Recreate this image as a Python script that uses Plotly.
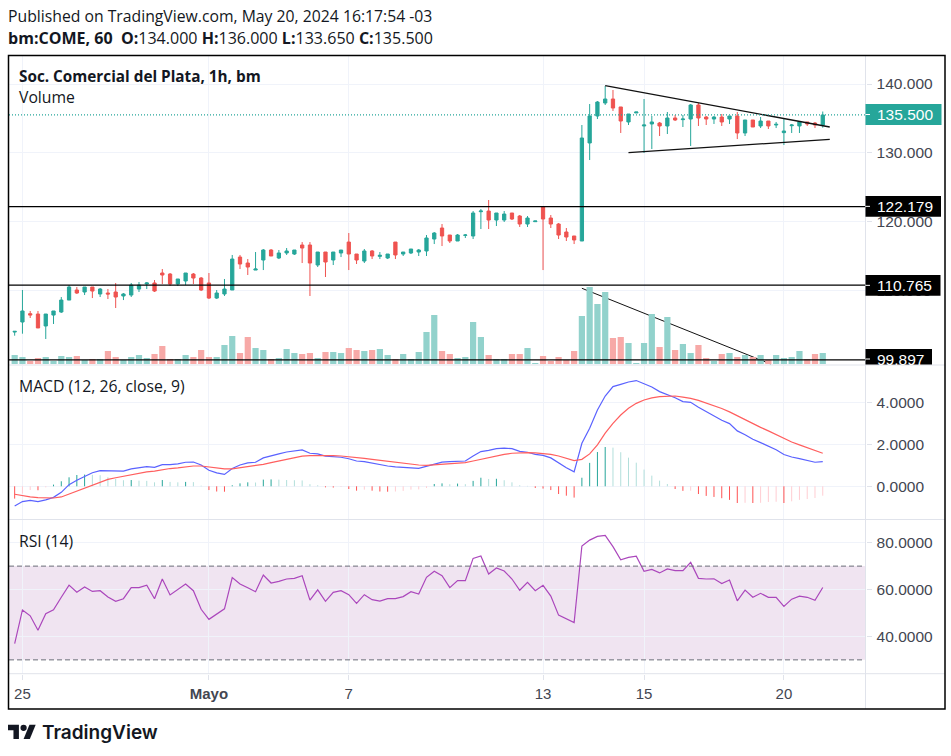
import plotly.graph_objects as go

W, H = 951, 756

# bar-by-bar readings, hourly, 25 Apr to 20 May 2024
opens = [103.95, 105.41, 106.62, 106.57, 104.83, 106.42, 106.86, 108.60, 110.06, 109.77,
         110.49, 109.48, 109.62, 109.77, 109.19, 109.33, 110.20, 110.93, 111.08, 112.53,
         112.38, 110.93, 111.37, 112.38, 111.80, 111.08, 108.89, 109.48, 110.06, 114.85,
         113.98, 112.96, 114.42, 115.87, 114.71, 115.44, 115.29, 116.60, 116.60, 113.69,
         115.58, 114.42, 115.44, 117.03, 115.29, 114.27, 115.73, 114.95, 114.71, 117.03,
         115.29, 115.44, 115.58, 115.73, 117.47, 119.07, 118.05, 117.18, 118.00, 117.91,
         121.44, 121.54, 120.23, 120.23, 121.25, 120.81, 119.65, 119.99, 122.12, 120.52,
         119.65, 118.49, 117.91, 117.18, 131.43, 135.35, 137.24, 137.82, 136.66, 134.48,
         135.79, 133.90, 134.19, 134.33, 133.90, 135.06, 134.82, 134.91, 136.95, 135.20,
         134.91, 135.20, 134.91, 135.35, 132.88, 134.77, 133.90, 134.62, 134.04, 132.93,
         133.94, 133.90, 134.48, 134.33, 134.00]
highs = [104.05, 110.06, 107.01, 107.01, 106.57, 107.01, 109.04, 110.78, 110.49, 110.49,
         110.49, 110.35, 110.20, 111.08, 109.62, 111.08, 111.22, 111.22, 111.51, 113.11,
         112.53, 111.66, 112.53, 112.53, 111.95, 112.53, 110.06, 111.66, 115.15, 115.15,
         114.56, 115.58, 116.02, 116.02, 115.87, 116.16, 115.87, 117.03, 117.03, 115.58,
         115.58, 115.58, 115.87, 118.34, 115.29, 116.02, 115.87, 115.58, 115.29, 117.03,
         115.58, 116.02, 116.02, 118.05, 118.49, 119.65, 118.05, 118.20, 118.20, 121.54,
         121.83, 123.14, 121.25, 121.54, 121.25, 120.96, 120.81, 120.09, 122.27, 120.96,
         119.80, 119.07, 117.91, 134.04, 137.09, 137.53, 139.71, 139.13, 136.66, 135.64,
         135.93, 137.82, 135.35, 134.48, 135.93, 135.50, 135.50, 137.09, 137.24, 135.35,
         135.35, 135.64, 135.35, 135.93, 134.77, 134.77, 135.20, 134.62, 134.48, 134.91,
         134.19, 134.62, 134.48, 134.48, 136.00]
lows = [103.42, 103.71, 105.99, 104.54, 102.94, 105.12, 106.72, 108.60, 109.48, 109.33,
        108.89, 109.04, 108.75, 107.44, 108.60, 109.04, 109.77, 110.20, 109.77, 110.93,
        110.64, 110.64, 110.78, 110.93, 109.91, 108.75, 108.75, 109.19, 110.06, 113.11,
        112.24, 112.96, 112.96, 115.00, 114.56, 115.15, 115.15, 113.98, 109.19, 113.40,
        111.95, 113.69, 114.85, 112.96, 113.84, 113.98, 114.56, 114.56, 114.56, 114.56,
        115.00, 115.29, 115.00, 115.00, 116.74, 116.45, 116.89, 117.18, 117.62, 117.47,
        118.92, 118.92, 119.36, 119.94, 120.23, 119.22, 119.22, 119.99, 112.96, 119.07,
        117.47, 117.18, 116.74, 117.18, 128.95, 134.91, 136.95, 136.08, 132.88, 134.04,
        135.79, 129.97, 130.55, 132.44, 132.73, 134.62, 133.75, 130.99, 133.90, 134.04,
        134.19, 133.90, 134.19, 132.00, 132.44, 133.75, 133.60, 133.46, 133.60, 131.13,
        132.88, 132.88, 133.90, 133.60, 133.65]
closes = [104.05, 107.01, 106.42, 104.54, 106.57, 107.01, 108.60, 110.49, 109.62, 110.49,
          109.91, 110.20, 109.48, 109.04, 109.48, 110.78, 110.78, 111.08, 109.91, 112.24,
          110.93, 111.66, 112.53, 111.80, 110.06, 108.89, 109.62, 110.20, 114.56, 113.84,
          113.40, 113.11, 115.87, 115.00, 115.44, 115.73, 115.87, 116.16, 113.98, 115.58,
          114.13, 115.58, 115.87, 115.29, 114.42, 115.73, 115.00, 115.10, 115.29, 115.15,
          115.58, 116.02, 115.87, 117.62, 118.34, 117.91, 117.18, 118.05, 118.05, 121.25,
          121.54, 120.23, 121.25, 121.10, 120.38, 119.65, 120.52, 120.09, 120.38, 119.65,
          118.05, 117.76, 117.33, 132.15, 135.35, 137.38, 137.82, 136.51, 134.62, 135.64,
          135.93, 134.04, 134.48, 133.90, 135.06, 134.77, 134.91, 136.95, 135.06, 134.91,
          135.20, 134.48, 135.35, 132.88, 134.77, 133.75, 134.62, 133.90, 134.14, 133.17,
          134.04, 134.48, 134.19, 134.04, 135.50]
volumes = [27, 21, 9, 18, 21, 9, 24, 21, 24, 12, 15, 15, 39, 21, 12, 21, 27, 18, 30, 54,
           15, 15, 27, 21, 42, 21, 21, 57, 84, 33, 81, 48, 42, 15, 18, 45, 33, 30, 33, 18,
           36, 36, 33, 48, 42, 39, 42, 45, 27, 15, 30, 15, 36, 96, 147, 39, 30, 18, 21, 126,
           81, 27, 15, 15, 30, 30, 48, 3, 24, 9, 21, 12, 39, 144, 231, 180, 216, 78, 81, 63,
           3, 63, 150, 51, 141, 42, 60, 33, 57, 18, 9, 30, 33, 21, 27, 21, 27, 12, 27, 18,
           21, 39, 15, 30, 33]
macd = [-0.94, -0.73, -0.67, -0.73, -0.65, -0.53, -0.29, 0.08, 0.29, 0.49, 0.65, 0.75, 0.75,
        0.73, 0.73, 0.83, 0.89, 0.94, 0.91, 1.04, 1.04, 1.07, 1.15, 1.16, 1.02, 0.77, 0.64,
        0.57, 0.85, 1.02, 1.12, 1.15, 1.36, 1.47, 1.55, 1.64, 1.69, 1.74, 1.58, 1.55, 1.44,
        1.42, 1.39, 1.32, 1.21, 1.18, 1.10, 1.02, 0.97, 0.93, 0.89, 0.88, 0.86, 0.97, 1.08,
        1.16, 1.18, 1.20, 1.21, 1.45, 1.66, 1.72, 1.80, 1.83, 1.80, 1.67, 1.63, 1.53, 1.48,
        1.36, 1.12, 0.89, 0.69, 2.06, 2.78, 3.65, 4.32, 4.77, 4.88, 4.99, 5.06, 4.90, 4.75,
        4.53, 4.40, 4.24, 4.05, 4.02, 3.78, 3.57, 3.37, 3.16, 3.00, 2.65, 2.47, 2.25, 2.09,
        1.93, 1.75, 1.52, 1.40, 1.32, 1.24, 1.15, 1.18]
signal = [-0.38, -0.46, -0.51, -0.54, -0.56, -0.56, -0.51, -0.37, -0.22, -0.06, 0.08, 0.22,
          0.33, 0.41, 0.48, 0.56, 0.62, 0.69, 0.73, 0.80, 0.85, 0.88, 0.93, 0.97, 0.97, 0.93,
          0.88, 0.83, 0.83, 0.88, 0.93, 0.97, 1.05, 1.13, 1.21, 1.29, 1.37, 1.44, 1.47, 1.48,
          1.48, 1.47, 1.45, 1.42, 1.37, 1.34, 1.29, 1.24, 1.20, 1.15, 1.10, 1.05, 1.02, 1.00,
          1.02, 1.05, 1.07, 1.10, 1.13, 1.21, 1.29, 1.39, 1.47, 1.53, 1.58, 1.61, 1.61, 1.60,
          1.58, 1.53, 1.45, 1.34, 1.23, 1.29, 1.55, 1.98, 2.54, 3.01, 3.41, 3.73, 3.97, 4.13,
          4.23, 4.29, 4.32, 4.32, 4.27, 4.21, 4.11, 3.99, 3.84, 3.72, 3.56, 3.37, 3.17, 3.00,
          2.82, 2.65, 2.47, 2.28, 2.12, 1.98, 1.85, 1.72, 1.58]
hist = [-0.59, -0.35, -0.18, -0.19, -0.05, 0.08, 0.24, 0.43, 0.54, 0.56, 0.55, 0.53, 0.43,
        0.35, 0.29, 0.30, 0.27, 0.26, 0.19, 0.30, 0.21, 0.19, 0.21, 0.20, 0.03, -0.18, -0.25,
        -0.26, 0.05, 0.14, 0.19, 0.18, 0.32, 0.33, 0.32, 0.30, 0.29, 0.28, 0.10, 0.05, -0.05,
        -0.06, -0.03, -0.13, -0.21, -0.16, -0.21, -0.25, -0.26, -0.25, -0.22, -0.16, -0.15,
        -0.08, 0.11, 0.14, 0.10, 0.13, 0.10, 0.26, 0.41, 0.35, 0.36, 0.29, 0.19, 0.05, 0.02,
        -0.08, -0.11, -0.18, -0.37, -0.45, -0.54, 0.41, 1.12, 1.64, 1.88, 1.85, 1.63, 1.37,
        1.13, 0.80, 0.51, 0.27, 0.11, -0.13, -0.22, -0.21, -0.37, -0.46, -0.51, -0.57, -0.65,
        -0.80, -0.79, -0.80, -0.79, -0.75, -0.74, -0.80, -0.72, -0.65, -0.61, -0.56, -0.45]
rsi = [36.9, 51.3, 48.8, 42.6, 49.7, 51.4, 56.7, 61.9, 58.9, 61.1, 59.2, 59.5, 56.8, 55.0,
       56.1, 60.8, 60.8, 61.9, 56.1, 64.5, 57.7, 59.9, 62.4, 59.5, 51.6, 47.3, 49.6, 51.8,
       65.1, 62.4, 60.8, 59.1, 66.2, 62.8, 63.5, 64.5, 64.8, 65.9, 55.5, 59.9, 55.0, 58.8,
       59.5, 57.8, 54.1, 57.8, 55.7, 55.1, 56.1, 56.1, 57.0, 59.1, 58.1, 65.2, 67.8, 65.9,
       60.8, 63.8, 63.8, 73.3, 74.3, 66.6, 69.2, 67.9, 64.5, 59.7, 63.1, 59.5, 61.8, 57.2,
       49.1, 47.6, 45.9, 78.6, 81.1, 82.7, 83.1, 78.3, 72.7, 73.7, 74.2, 67.8, 68.6, 67.1,
       68.8, 68.1, 68.1, 71.6, 64.8, 64.5, 64.6, 62.6, 64.1, 55.2, 59.8, 56.7, 58.4, 56.7,
       56.7, 52.8, 55.9, 57.2, 56.7, 55.4, 60.9]

time_ticks = [1, 25, 43, 68, 81, 99]
time_labels = ['25', '<b>Mayo</b>', '7', '13', '15', '20']
price_ticks = [110, 120, 130, 140]
macd_ticks = [0, 2, 4]
rsi_ticks = [40, 60, 80]

last_price = 135.5
levels = [122.179, 110.765, 99.897]
# trend lines: (bar, price) at each end
upper_trend = ([76, 104.9], [139.76, 133.75])
lower_trend = ([79, 104.9], [130.02, 131.96])
volume_trend = ([73, 97.3], [110.31, 99.30])

GREEN = '#26a69a'
RED = '#ef5350'
GRID = '#f0f3fa'
SEP = '#e0e3eb'
TEXT = '#131722'
AXIS_TEXT = '#434651'
UI_FONT = 'Open Sans'
AXIS_FONT = 'Liberation Sans'
SCALE_X = 865.5


def px(x):
    return x / W


def py(y):
    return 1 - y / H


bars = list(range(len(closes)))
vol_colors = ['#92d2cc' if c >= o else '#f7a9a7' for o, c in zip(opens, closes)]

# histogram stems grouped by TradingView's rising/falling colours
stems = {'#26a69a': ([], []), '#b2dfdb': ([], []), '#ff5252': ([], []), '#ffcdd2': ([], [])}
prev = 0
for i, h in enumerate(hist):
    if h >= 0:
        color = '#26a69a' if h > prev else '#b2dfdb'
    else:
        color = '#ff5252' if h < prev else '#ffcdd2'
    stems[color][0].extend([i, i, None])
    stems[color][1].extend([0, h, None])
    prev = h

fig = go.Figure()

fig.add_trace(go.Bar(x=bars, y=volumes, yaxis='y2', width=0.8, marker_color=vol_colors,
                     marker_line_width=0, name='Volume'))
fig.add_trace(go.Candlestick(x=bars, open=opens, high=highs, low=lows, close=closes, yaxis='y',
                             whiskerwidth=0, name='COME',
                             increasing=dict(line=dict(color=GREEN, width=1), fillcolor=GREEN),
                             decreasing=dict(line=dict(color=RED, width=1), fillcolor=RED)))
for xs, ys, lw in [(*upper_trend, 1.3), (*lower_trend, 1.3), (*volume_trend, 1)]:
    fig.add_trace(go.Scatter(x=xs, y=ys, yaxis='y', mode='lines',
                             line=dict(color='#111111', width=lw)))

for color, (xs, ys) in stems.items():
    fig.add_trace(go.Scatter(x=xs, y=ys, yaxis='y3', mode='lines', name='Histogram',
                             line=dict(color=color, width=1)))
fig.add_trace(go.Scatter(x=bars, y=macd, yaxis='y3', mode='lines', name='MACD',
                         line=dict(color='#5a62ff', width=1.2)))
fig.add_trace(go.Scatter(x=bars, y=signal, yaxis='y3', mode='lines', name='Signal',
                         line=dict(color='#ff5f5f', width=1.2)))
fig.add_trace(go.Scatter(x=bars, y=rsi, yaxis='y4', mode='lines', name='RSI',
                         line=dict(color='#ab47bc', width=1.2)))

shapes = []


def rect(x0, y0, x1, y1, color):
    shapes.append(dict(type='rect', xref='paper', yref='paper', x0=px(x0), x1=px(x1),
                       y0=py(y0), y1=py(y1), fillcolor=color, line_width=0, layer='above'))


def seg(x0, y0, x1, y1, color, width=1, dash='solid'):
    shapes.append(dict(type='line', xref='paper', yref='paper', x0=px(x0), x1=px(x1),
                       y0=py(y0), y1=py(y1), line=dict(color=color, width=width, dash=dash),
                       layer='above'))


# rsi band
shapes.append(dict(type='rect', xref='paper', yref='y4', x0=px(9), x1=px(SCALE_X), y0=30, y1=70,
                   fillcolor='rgba(130,30,138,0.12)', line_width=0, layer='below'))
for level in [70, 30]:
    shapes.append(dict(type='line', xref='paper', yref='y4', x0=px(9), x1=px(SCALE_X), y0=level,
                       y1=level, line=dict(color='#6a6d78', width=1, dash='5px,3px'), layer='above'))

# price lines
shapes.append(dict(type='line', xref='paper', yref='y', x0=px(9), x1=px(SCALE_X), y0=last_price,
                   y1=last_price, line=dict(color=GREEN, width=1.3, dash='1px,2px'), layer='above'))
for level in levels:
    shapes.append(dict(type='line', xref='paper', yref='y', x0=px(9), x1=px(SCALE_X), y0=level,
                       y1=level, line=dict(color='#000000', width=1.2), layer='above'))

# pane separators and the scale
seg(9, 365, 945, 365, SEP)
seg(9, 519.5, 945, 519.5, SEP)
seg(9, 673.7, 945, 673.7, SEP)
seg(SCALE_X, 56, SCALE_X, 709, SEP)

# price labels
boxes = [(last_price, '135.500', 104, 125, 941.5, GREEN),
         (levels[0], '122.179', 196, 216.7, 941, '#000000'),
         (levels[1], '110.765', 275, 295.7, 940.5, '#000000'),
         (levels[2], '99.897', 349, 364.5, 932, '#000000')]
annotations = []
for _, label, top, bottom, right, color in boxes:
    rect(SCALE_X, top, right, bottom, color)
    mid = (top + bottom) / 2 if label != '99.897' else 359
    seg(SCALE_X, mid, 870, mid, '#ffffff')
    annotations.append(dict(x=px(877), y=py(mid), text=label,
                            font=dict(family=AXIS_FONT, size=15.5, color='#ffffff')))

# outer frame
shapes.append(dict(type='rect', xref='paper', yref='paper', x0=px(8.5), x1=px(945), y0=py(709),
                   y1=py(55.5), line=dict(color='#000000', width=1.5), layer='above'))


def note(x, y, text, size=15.75, color=TEXT, family=UI_FONT, **font):
    annotations.append(dict(x=px(x), y=py(y), text=text,
                            font=dict(family=family, size=size, color=color, **font)))


note(8, 16, 'Published on TradingView.com, May 20, 2024 16:17:54 -03')
note(8, 38, '<b>bm:COME, 60  O:</b>134.000 <b>H:</b>136.000 <b>L:</b>133.650 <b>C:</b>135.500', size=16.05)
note(19, 76.5, '<b>Soc. Comercial del Plata, 1h, bm</b>', size=15.3)
note(19, 97.5, 'Volume')
note(19, 385.5, 'MACD (12, 26, close, 9)')
note(19, 540.5, 'RSI (14)')
note(42, 732, 'TradingView', size=19, family='Inter', weight=600)

# logo, in the mark's own 36-wide grid
def lx(u):
    return px(8 + u * 0.78)


def ly(v):
    return py(724.7 + (v - 4) * 0.79)


logo_t = f'M{lx(14)},{ly(22)} L{lx(7)},{ly(22)} L{lx(7)},{ly(11)} L{lx(0)},{ly(11)} L{lx(0)},{ly(4)} L{lx(14)},{ly(4)} Z'
logo_s = f'M{lx(28)},{ly(22)} L{lx(20)},{ly(22)} L{lx(27.5)},{ly(4)} L{lx(35.5)},{ly(4)} Z'
for path in [logo_t, logo_s]:
    shapes.append(dict(type='path', xref='paper', yref='paper', path=path, fillcolor=TEXT,
                       line_width=0, layer='above'))
shapes.append(dict(type='circle', xref='paper', yref='paper', x0=lx(16), x1=lx(24), y0=ly(12),
                   y1=ly(4), fillcolor=TEXT, line_width=0, layer='above'))

for a in annotations:
    a.update(xref='paper', yref='paper', xanchor='left', yanchor='middle', showarrow=False,
             align='left', borderpad=0, borderwidth=0)


def value_axis(domain, span, ticks, labels, **extra):
    return dict(domain=[py(domain[1]), py(domain[0])], range=span, side='right', anchor='x',
                tickmode='array', tickvals=ticks, ticktext=labels, gridcolor=GRID, gridwidth=1,
                zeroline=False, showline=False, ticks='outside', ticklen=5, tickcolor=SEP,
                ticklabelstandoff=2,
                tickfont=dict(family=AXIS_FONT, size=15.5, color=AXIS_TEXT), fixedrange=True, **extra)


fig.update_layout(
    width=W, height=H,
    margin=dict(l=0, r=0, t=0, b=0),
    paper_bgcolor='#ffffff', plot_bgcolor='#ffffff',
    showlegend=False,
    barmode='overlay',
    boxgap=0.4,
    shapes=shapes,
    annotations=annotations,
    xaxis=dict(domain=[px(9), px(SCALE_X)], range=[-0.73, 109.5], anchor='y4',
               tickmode='array', tickvals=time_ticks, ticktext=time_labels,
               gridcolor=GRID, zeroline=False, showline=False, ticks='outside', ticklen=5,
               tickcolor=SEP, ticklabelstandoff=1,
               tickfont=dict(family=AXIS_FONT, size=15, color=AXIS_TEXT),
               rangeslider=dict(visible=False), fixedrange=True),
    yaxis=value_axis((56, 365), [99.16, 144.07], price_ticks, [f'{v:.3f}' for v in price_ticks]),
    yaxis2=dict(domain=[py(365), py(56)], range=[-3, 924], overlaying='y', side='left', anchor='x',
                visible=False, fixedrange=True),
    yaxis3=value_axis((366, 519), [-1.565, 5.756], macd_ticks, [f'{v:.4f}' for v in macd_ticks]),
    yaxis4=value_axis((520, 673.7), [24.1, 89.68], rsi_ticks, [f'{v:.4f}' for v in rsi_ticks]),
)

fig.write_html("out.html", config=dict(displayModeBar=False),
               post_script="document.body.style.margin='0';document.body.style.overflow='hidden';")
